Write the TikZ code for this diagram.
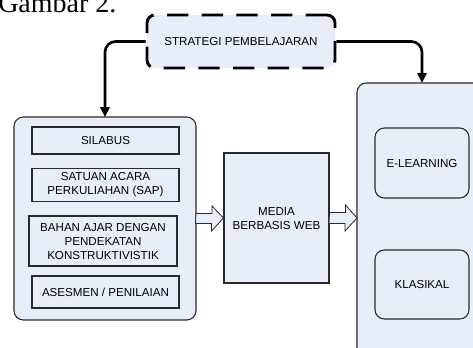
\documentclass[tikz,border=0pt]{standalone}
\usepackage{fontspec}
\setmainfont{Liberation Sans}
\newfontfamily\capfont{Liberation Serif}
\usetikzlibrary{arrows.meta}
\definecolor{boxfill}{HTML}{E8EEF8}
\definecolor{boxline}{HTML}{2A2A2A}
\begin{document}
\begin{tikzpicture}[x=0.75pt,y=-0.75pt,
  lbl/.style={font=\fontsize{8.7}{10.5}\selectfont, text=black, align=center},
  bigbox/.style={draw=boxline, fill=boxfill, line width=0.8pt, rounded corners=7pt},
  itembox/.style={draw=boxline, fill=boxfill, line width=0.8pt},
  roundbox/.style={draw=boxline, fill=boxfill, line width=0.8pt, rounded corners=7pt},
  dashbox/.style={draw=black, fill=boxfill, line width=2.2pt, rounded corners=6pt, dash pattern=on 16pt off 10pt},
  conn/.style={draw=black, line width=2pt, rounded corners=8pt, -{Triangle[length=7.5pt,width=7pt]}},
  hollow/.style={draw=boxline, fill=boxfill, line width=0.6pt, line join=miter}
]
\useasboundingbox (0,0) rectangle (473,347);
\begin{scope}
\clip (0,0) rectangle (473,347);
% caption (cut off at top, as in the reference)
\node[anchor=base west, inner sep=0pt, font=\capfont\fontsize{21}{23}\selectfont] (cap) at (-2,12.3) {Gambar 2.};
% big boxes
\path[bigbox] (14,117) rectangle (196,320);
\coordinate (lbtop) at (105,117);
\coordinate (lbeast) at (196,219);
\path[bigbox] (357,83) rectangle (490,370);
\coordinate (rbtop) at (422,83);
\coordinate (rbwest) at (357,218);
% inner items
\node[itembox, lbl, minimum width=110.25pt, minimum height=20.25pt] (silabus) at (105.5,140.5) {SILABUS};
\node[itembox, lbl, minimum width=110.25pt, minimum height=24pt] (sap) at (105.5,185) {SATUAN ACARA\\PERKULIAHAN (SAP)};
\node[itembox, lbl, minimum width=111pt, minimum height=37.5pt] (bahan) at (103,241) {BAHAN AJAR DENGAN\\PENDEKATAN\\KONSTRUKTIVISTIK};
\node[itembox, lbl, minimum width=110.25pt, minimum height=24pt] (asesmen) at (105.5,292) {ASESMEN / PENILAIAN};
% media
\node[itembox, minimum width=78.75pt, minimum height=97.5pt] (media) at (276.5,218) {};
\node[lbl] (medialbl) at (276.5,219) {MEDIA\\BERBASIS WEB};
% right inner boxes
\node[roundbox, lbl, minimum width=70.5pt, minimum height=52.5pt] (elearn) at (422,163) {E-LEARNING};
\node[roundbox, lbl, minimum width=70.5pt, minimum height=51.75pt] (klasikal) at (422,284.5) {KLASIKAL};
% strategi
\node[dashbox, lbl, minimum width=141pt, minimum height=39.75pt] (strat) at (241,41.5) {STRATEGI PEMBELAJARAN};
% connectors
\draw[conn] (strat.west) -- (105,41.5) -- (lbtop);
\draw[conn] (strat.east) -- (422,41.5) -- (rbtop);
% hollow block arrows
\draw[hollow] (lbeast) ++(0,-5.5) -- ++(16,0) -- ++(0,-7.5) -- (media.west) -- ++(-12,13) -- ++(0,-7.5) -- ++(-16,0) -- cycle;
\draw[hollow] (media.east) ++(0,-5.5) -- ++(16,0) -- ++(0,-7.5) -- (rbwest) -- ++(-12,13) -- ++(0,-7.5) -- ++(-16,0) -- cycle;
\end{scope}
\end{tikzpicture}
\end{document}
